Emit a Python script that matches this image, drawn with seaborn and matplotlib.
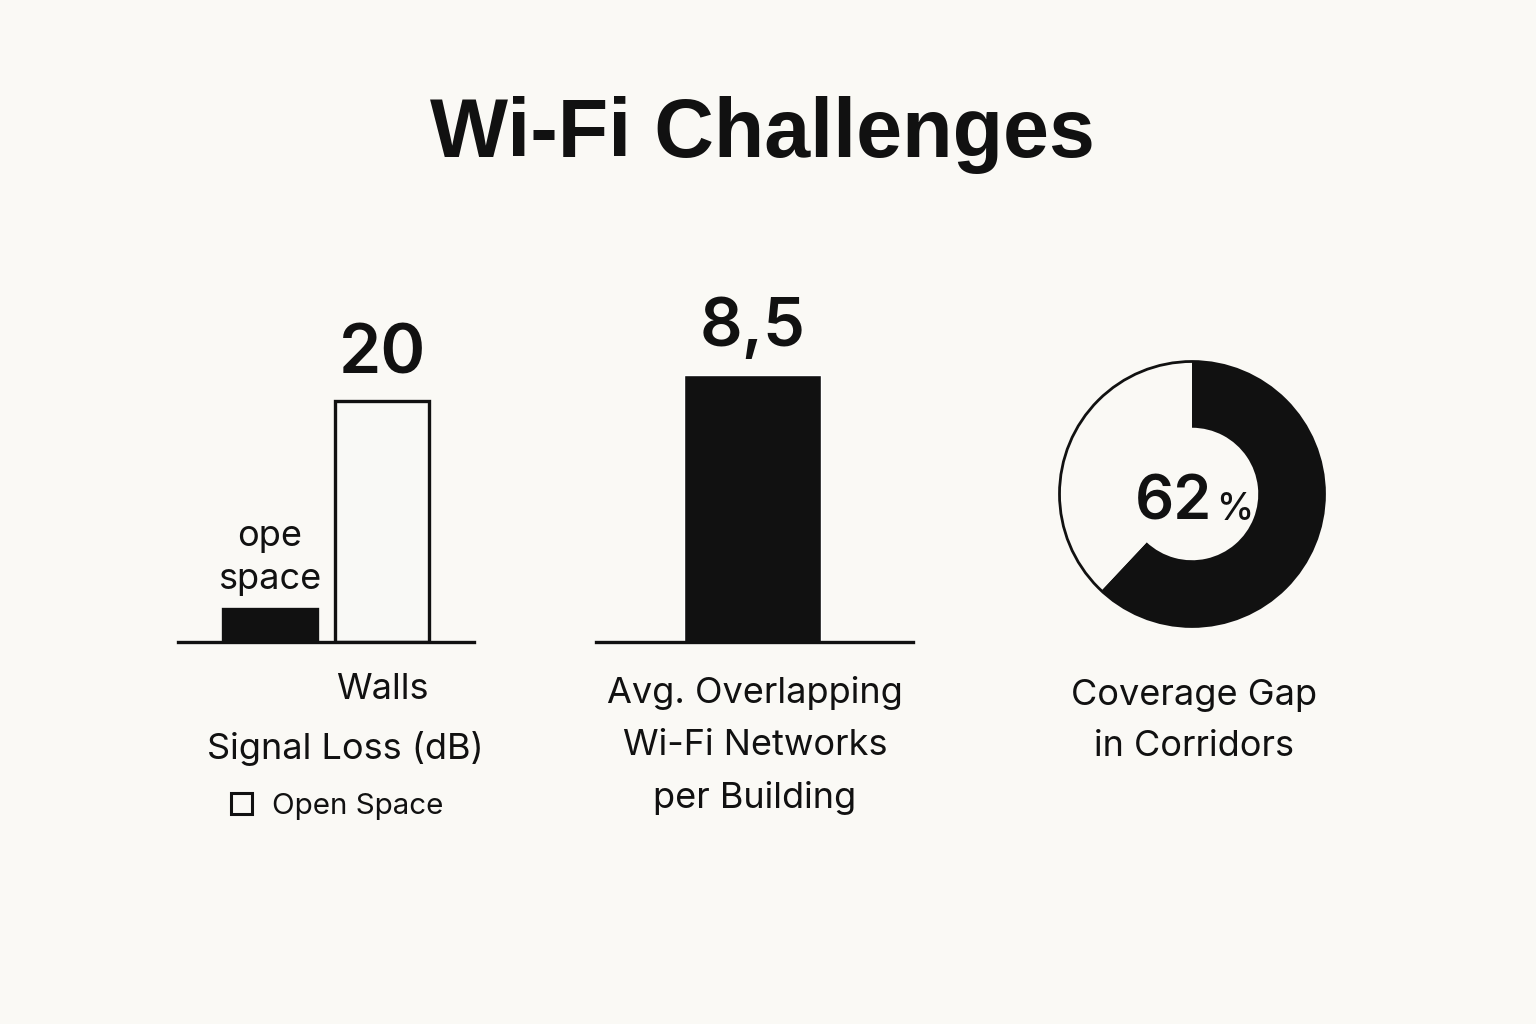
import matplotlib
matplotlib.use("Agg")
import matplotlib.pyplot as plt
import seaborn as sns
import pandas as pd
from matplotlib.patches import Patch, Circle

# ---------------- data ----------------
title = "Wi-Fi Challenges"

loss_categories = ["Open Space", "Walls"]
loss_values = [2.7, 20]
loss_tick_labels = ["", "Walls"]
loss_value_text = "20"
loss_note = "ope\nspace"
loss_xlabel = "Signal Loss (dB)"
loss_legend_label = "Open Space"

overlap_categories = ["Overlapping networks"]
overlap_values = [8.5]
overlap_value_text = "8,5"
overlap_caption = "Avg. Overlapping\nWi-Fi Networks\nper Building"

gap_labels = ["Coverage gap", "Covered"]
gap_values = [62, 38]
gap_value_text = "62"
gap_unit_text = "%"
gap_caption = "Coverage Gap\nin Corridors"

# ---------------- style ----------------
BG = "#FAF9F5"
INK = "#111111"
W, H = 1536, 1024

sns.set_theme(style="white")
plt.rcParams["font.family"] = ["Inter", "DejaVu Sans"]
plt.rcParams["text.color"] = INK
plt.rcParams["axes.facecolor"] = "none"

fig = plt.figure(figsize=(W / 100, H / 100), dpi=100, facecolor=BG)


def rect(l, t, r, b):
    return [l / W, 1 - b / H, (r - l) / W, (b - t) / H]


def fx(x):
    return x / W


def fy(y):
    return 1 - y / H


fig.text(fx(762), fy(157), title, ha="center", va="baseline", fontsize=59.5,
         fontweight="bold", family=["Liberation Sans", "DejaVu Sans"], color=INK)

# ---------------- panel 1: signal loss ----------------
ax1 = fig.add_axes(rect(178, 300, 474, 642))
df1 = pd.DataFrame({"category": loss_categories, "value": loss_values})
sns.barplot(data=df1, x="category", y="value", hue="category",
            palette=[INK, BG], width=0.84, edgecolor=INK, linewidth=2.4,
            legend=False, ax=ax1)
ax1.set_xlim(-0.821, 1.821)
ax1.set_ylim(0, max(loss_values) * 342 / 241)
sns.despine(ax=ax1, left=True)
ax1.spines["bottom"].set_linewidth(2.4)
ax1.spines["bottom"].set_color(INK)
ax1.set_yticks([])
ax1.set_ylabel("")
ax1.set_xticks([0, 1], loss_tick_labels)
ax1.tick_params(axis="x", length=0, pad=22, labelsize=26, labelcolor=INK)
ax1.set_xlabel(loss_xlabel, fontsize=26, va="baseline", color=INK)
ax1.xaxis.set_label_coords((345 - 178) / 296, -(759 - 642) / 342)

ax1.annotate(loss_value_text, xy=(1, loss_values[1]), xytext=(0, 20),
             textcoords="offset points", ha="center", va="baseline",
             fontsize=49, fontweight="semibold", color=INK)
ax1.annotate(loss_note, xy=(0, loss_values[0]), xytext=(0, 10),
             textcoords="offset points", ha="center", va="bottom",
             fontsize=26, linespacing=1.35, color=INK)

fig.legend(handles=[Patch(facecolor="none", edgecolor=INK, linewidth=2.2)],
           labels=[loss_legend_label], loc="center left",
           bbox_to_anchor=(fx(231), fy(806)), frameon=False, fontsize=21.3,
           handlelength=0.72, handleheight=0.72, handletextpad=0.65,
           borderpad=0, borderaxespad=0)

# ---------------- panel 2: overlapping networks ----------------
ax2 = fig.add_axes(rect(596, 300, 913, 642))
df2 = pd.DataFrame({"category": overlap_categories, "value": overlap_values})
sns.barplot(data=df2, x="category", y="value", color=INK, saturation=1,
            width=0.8, ax=ax2)
ax2.set_xlim(-0.915, 0.938)
ax2.set_ylim(0, max(overlap_values) * 342 / 267)
sns.despine(ax=ax2, left=True)
ax2.spines["bottom"].set_linewidth(2.4)
ax2.spines["bottom"].set_color(INK)
ax2.set_yticks([])
ax2.set_ylabel("")
ax2.set_xticks([])
ax2.set_xlabel(overlap_caption, fontsize=26, va="baseline", linespacing=1.71,
               color=INK)
ax2.xaxis.set_label_coords((755 - 596) / 317, -(808 - 642) / 342)
ax2.annotate(overlap_value_text, xy=(0, overlap_values[0]), xytext=(0, 21),
             textcoords="offset points", ha="center", va="baseline",
             fontsize=48, fontweight="semibold", color=INK)

# ---------------- panel 3: coverage gap donut ----------------
cx, cy, r = 1192, 494, 132.5
ax3 = fig.add_axes(rect(cx - 150, cy - 150, cx + 150, cy + 150))
ax3.pie(gap_values, colors=[INK, BG], startangle=90, counterclock=False,
        radius=1, wedgeprops=dict(width=0.5, edgecolor="none"))
ax3.add_patch(Circle((0, 0), 1, fill=False, edgecolor=INK, linewidth=2))
ax3.set_xlim(-150 / r, 150 / r)
ax3.set_ylim(-150 / r, 150 / r)
ax3.set_aspect("equal")
ax3.axis("off")
ax3.annotate(gap_value_text, xy=(0, 0), xytext=(14.4, -18.7),
             textcoords="offset points", ha="right", va="baseline",
             fontsize=44, fontweight="semibold", color=INK)
ax3.annotate(gap_unit_text, xy=(0, 0), xytext=(17.3, -18.7),
             textcoords="offset points", ha="left", va="baseline",
             fontsize=27, fontweight="medium", color=INK)
ax3.text((1194 - (cx - 150)) / 300, -(756 - (cy + 150)) / 300, gap_caption,
         transform=ax3.transAxes, ha="center", va="baseline", fontsize=26,
         linespacing=1.68, color=INK)

fig.savefig("out.png", dpi=100, facecolor=BG)
